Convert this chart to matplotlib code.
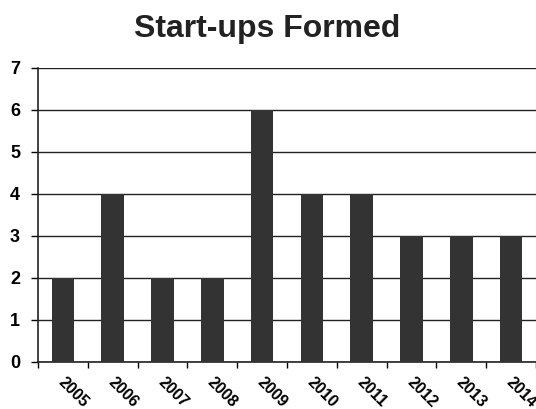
import matplotlib
matplotlib.use("Agg")
import matplotlib.pyplot as plt
import matplotlib.transforms as mtransforms
import numpy as np

years = ["2005", "2006", "2007", "2008", "2009", "2010", "2011", "2012", "2013", "2014"]
startups = [2, 4, 2, 2, 6, 4, 4, 3, 3, 3]
yticks = [0, 1, 2, 3, 4, 5, 6, 7]

plt.rcParams['font.family'] = ['Liberation Sans', 'DejaVu Sans']

fig = plt.figure(figsize=(5.36, 4.09), dpi=100)
ax = fig.add_axes([38/536, 1 - 362/409, (536 - 38)/536, (362 - 68)/409])

x = np.arange(len(years))
ax.bar(x, startups, width=0.45, color="#333333", zorder=3)

ax.set_xlim(-0.5, len(years) - 0.5)
ax.set_ylim(0, 7)
ax.set_yticks(yticks)
ax.set_yticklabels([str(v) for v in yticks], fontsize=13, fontweight='bold')
ax.yaxis.grid(True, color="#222222", linewidth=1.0, zorder=0)
ax.set_axisbelow(True)

ax.set_xticks(np.arange(-0.5, len(years) + 0.5, 1.0))
ax.set_xticklabels([])
ax.set_xticks(x, minor=True)
ax.set_xticklabels(years, minor=True, rotation=-45, ha='left', va='top',
                   rotation_mode='anchor', fontsize=11.5, fontweight='bold')
ax.tick_params(axis='x', which='minor', length=0, pad=9)
ax.tick_params(axis='x', which='major', length=4, direction='out', width=1)
ax.tick_params(axis='y', length=5, direction='out', width=1, pad=8)
offset = mtransforms.ScaledTranslation(3/100, 0, fig.dpi_scale_trans)
for lbl in ax.get_xticklabels(minor=True):
    lbl.set_transform(lbl.get_transform() + offset)

for s in ['top', 'right']:
    ax.spines[s].set_visible(False)
for s in ['left', 'bottom']:
    ax.spines[s].set_color("#222222")
    ax.spines[s].set_linewidth(1.2)

fig.text(267/536, 1 - 29/409, "Start-ups Formed", ha='center', va='center',
         fontsize=23, fontweight='bold', color="#222222")

fig.savefig("out.png", dpi=100)
